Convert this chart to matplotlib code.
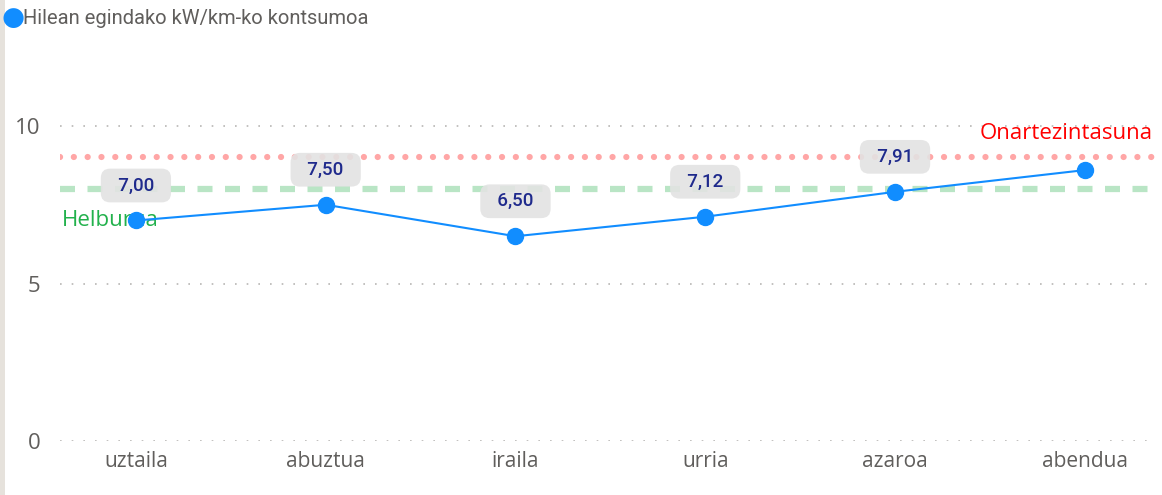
import numpy as np
import matplotlib
matplotlib.use("Agg")
import matplotlib.pyplot as plt
from matplotlib.patches import Rectangle

# datos
hilabeteak = ["uztaila", "abuztua", "iraila", "urria", "azaroa", "abendua"]
kontsumoa = [7.00, 7.50, 6.50, 7.12, 7.91, 8.60]
etiketak = ["7,00", "7,50", "6,50", "7,12", "7,91", None]
helburua = 8.0
onartezintasuna = 9.0
yticks = [0, 5, 10]

plt.rcParams['font.family'] = ['Open Sans', 'DejaVu Sans']

fig = plt.figure(figsize=(11.62, 4.95), dpi=100)
ax = fig.add_axes([60/1162, (495-441)/495, (1155-60)/1162, (441-63)/495])

# franja izquierda
fig.patches.append(Rectangle((0, 0), 5/1162, 1, transform=fig.transFigure,
                             facecolor="#E6E2DC", edgecolor="none"))

xx = np.arange(len(hilabeteak))

# grid punteado
for yv in yticks:
    ax.axhline(yv, color="#B8B6B4", lw=1.2, ls=(0, (1, 6)), zorder=0)

# referencias
ax.axhline(onartezintasuna, color="#FF0000", alpha=0.35, lw=4.5,
           ls=(0, (0.01, 2.2)), dash_capstyle="round", zorder=1)
ax.axhline(helburua, color="#1AAB40", alpha=0.3, lw=4.5,
           ls=(0, (2.4, 2.0)), zorder=1)

ax.plot(xx, kontsumoa, color="#118DFF", lw=1.5, marker="o", ms=11.5,
        zorder=4)

for i, lab in enumerate(etiketak):
    if lab is None:
        continue
    ax.annotate("  " + lab + "  ", (xx[i], kontsumoa[i]), xytext=(0, 35),
                textcoords="offset pixels",
                ha="center", va="center", fontsize=13.5, color="#1F2A8C",
                family=["Roboto", "DejaVu Sans"], fontweight="medium",
                bbox=dict(boxstyle="round,pad=0.42,rounding_size=0.5",
                          fc="#E3E3E3", ec="none", alpha=0.9), zorder=3)

ax.text(-0.39, 7.0, "Helburua", color="#22B14C", fontsize=16,
        va="center", ha="left", zorder=2)
ax.text(5.36, 9.75, "Onartezintasuna", color="#FF0000", fontsize=16,
        va="center", ha="right", zorder=2)

ax.set_xlim(-0.4, 5.37)
ax.set_ylim(0, 12)
ax.set_xticks(xx)
ax.set_xticklabels(hilabeteak, fontsize=15, color="#605E5C")
ax.set_yticks(yticks)
ax.set_yticklabels([str(v) for v in yticks], fontsize=16, color="#605E5C")
ax.tick_params(length=0, axis="x", pad=7)
ax.tick_params(length=0, axis="y", pad=14)
for s in ax.spines.values():
    s.set_visible(False)

# leyenda
fig.text(13/1162, 1 - 18/495, "\u25CF", color="#118DFF", fontsize=19,
         ha="center", va="center", family="DejaVu Sans")
fig.text(23/1162, 1 - 18/495, "Hilean egindako kW/km-ko kontsumoa",
         color="#605E5C", fontsize=14.5, ha="left", va="center",
         family=["Roboto", "DejaVu Sans"])

fig.savefig("out.png", dpi=100)
